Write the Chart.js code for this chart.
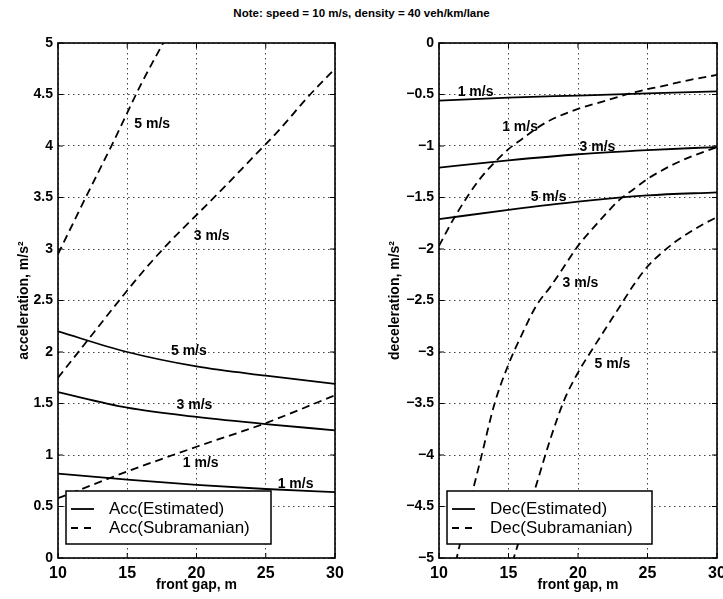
<!DOCTYPE html>
<html>
<head>
<meta charset="utf-8">
<script src="https://cdn.jsdelivr.net/npm/chart.js@4.4.0/dist/chart.umd.min.js"></script>
<style>
html, body { margin: 0; padding: 0; background: #fff; overflow: hidden; width: 723px; height: 599px; }
#note { position: absolute; top: 7px; left: 0; width: 723px; text-align: center;
        font: bold 11.5px 'Liberation Sans', Arial, sans-serif; color: #000; }
#accChart { position: absolute; left: 0; top: 0; }
#decChart { position: absolute; left: 360px; top: 0; }
</style>
</head>
<body>
<div id="note">Note: speed = 10 m/s, density = 40 veh/km/lane</div>
<canvas id="accChart" width="360" height="599"></canvas>
<canvas id="decChart" width="380" height="599"></canvas>
<script>
// front gap (m) for the estimated curves
const gapEst = [10, 15, 20, 25, 30];

// acceleration, estimated model
const accEst5 = [2.20, 2.00, 1.86, 1.77, 1.69];
const accEst3 = [1.61, 1.46, 1.37, 1.30, 1.24];
const accEst1 = [0.82, 0.76, 0.71, 0.67, 0.64];

// acceleration, Subramanian model
const gapAccSub5 = [10, 12, 14, 16, 18];
const accSub5 = [2.95, 3.50, 4.04, 4.60, 5.10];
const gapAccSub3 = [10, 11, 12, 13, 14, 16, 18, 20, 22, 24, 26, 28, 30];
const accSub3 = [1.75, 1.92, 2.09, 2.26, 2.43, 2.76, 3.06, 3.33, 3.60, 3.88, 4.16, 4.47, 4.75];
const gapAccSub1 = [10, 15, 20, 25, 30];
const accSub1 = [0.58, 0.84, 1.08, 1.31, 1.58];

// deceleration, estimated model
const decEst1 = [-0.56, -0.53, -0.51, -0.49, -0.47];
const decEst3 = [-1.21, -1.14, -1.08, -1.04, -1.01];
const decEst5 = [-1.71, -1.62, -1.54, -1.48, -1.45];

// deceleration, Subramanian model
const gapDecSub1 = [10, 11, 12, 13, 14, 15, 16, 17, 18, 20, 22, 24, 26, 28, 30];
const decSub1 = [-1.97, -1.72, -1.50, -1.31, -1.16, -1.03, -0.93, -0.83, -0.75, -0.64, -0.56, -0.48, -0.42, -0.36, -0.31];
const gapDecSub3 = [11, 12, 13, 14, 15, 16, 17, 18, 19, 20, 21, 22, 23, 24, 25, 26, 27, 28, 29, 30];
const decSub3 = [-5.16, -4.58, -4.04, -3.50, -3.12, -2.82, -2.55, -2.37, -2.17, -1.97, -1.81, -1.66, -1.52, -1.42, -1.32, -1.24, -1.17, -1.11, -1.06, -1.01];
const gapDecSub5 = [15, 16, 17, 18, 19, 20, 21, 22, 23, 24, 25, 26, 27, 28, 29, 30];
const decSub5 = [-5.16, -4.73, -4.29, -3.85, -3.47, -3.20, -2.98, -2.77, -2.56, -2.35, -2.17, -2.04, -1.93, -1.84, -1.76, -1.69];

// curve labels (data coordinates)
const accNotes = ['5 m/s', '3 m/s', '5 m/s', '3 m/s', '1 m/s', '1 m/s'];
const accNoteX = [16.8, 21.1, 19.45, 19.85, 20.3, 27.15];
const accNoteY = [4.21, 3.12, 2.01, 1.48, 0.92, 0.72];
const decNotes = ['1 m/s', '1 m/s', '3 m/s', '5 m/s', '3 m/s', '5 m/s'];
const decNoteX = [12.63, 15.83, 21.4, 17.88, 20.18, 22.48];
const decNoteY = [-0.48, -0.82, -1.01, -1.50, -2.33, -3.12];

const accLegend = ['Acc(Estimated)', 'Acc(Subramanian)'];
const decLegend = ['Dec(Estimated)', 'Dec(Subramanian)'];

const FONT = "'Liberation Sans', Arial, sans-serif";
const DASH = [8, 5];

function toPoints(xs, ys) {
    return xs.map((x, i) => ({ x: x, y: ys[i] }));
}

function lineSet(label, xs, ys, dashed) {
    return {
        label: label,
        data: toPoints(xs, ys),
        borderColor: '#000',
        borderWidth: 1.8,
        borderDash: dashed ? DASH : [],
        pointRadius: 0,
        fill: false,
        cubicInterpolationMode: 'monotone'
    };
}

// labels, MATLAB-style inward ticks, boxed legend and frame
function makeDecor(notes, noteX, noteY, legendText) {
    return {
        id: 'decor',
        afterDatasetsDraw(chart) {
            const { ctx, chartArea: a, scales: { x, y } } = chart;
            ctx.save();
            ctx.fillStyle = '#000';
            ctx.font = 'bold 14px ' + FONT;
            ctx.textAlign = 'center';
            ctx.textBaseline = 'middle';
            notes.forEach((t, i) => {
                ctx.fillText(t, x.getPixelForValue(noteX[i]), y.getPixelForValue(noteY[i]));
            });

            ctx.strokeStyle = '#000';
            ctx.lineWidth = 1;
            ctx.beginPath();
            x.ticks.forEach(t => {
                const px = x.getPixelForValue(t.value);
                ctx.moveTo(px, a.bottom); ctx.lineTo(px, a.bottom - 5);
                ctx.moveTo(px, a.top); ctx.lineTo(px, a.top + 5);
            });
            y.ticks.forEach(t => {
                const py = y.getPixelForValue(t.value);
                ctx.moveTo(a.left, py); ctx.lineTo(a.left + 5, py);
                ctx.moveTo(a.right, py); ctx.lineTo(a.right - 5, py);
            });
            ctx.stroke();

            // legend box
            const bx = a.left + 8, by = a.bottom - 67, bw = 205, bh = 53;
            ctx.fillStyle = '#fff';
            ctx.fillRect(bx, by, bw, bh);
            ctx.lineWidth = 1.5;
            ctx.strokeRect(bx, by, bw, bh);
            ctx.lineWidth = 1.8;
            ctx.beginPath();
            ctx.setLineDash([]);
            ctx.moveTo(bx + 5, by + 18); ctx.lineTo(bx + 28, by + 18);
            ctx.stroke();
            ctx.beginPath();
            ctx.setLineDash([7, 6]);
            ctx.moveTo(bx + 5, by + 37); ctx.lineTo(bx + 30, by + 37);
            ctx.stroke();
            ctx.setLineDash([]);
            ctx.fillStyle = '#000';
            ctx.font = '17px ' + FONT;
            ctx.textAlign = 'left';
            ctx.fillText(legendText[0], bx + 43, by + 18);
            ctx.fillText(legendText[1], bx + 43, by + 37);

            ctx.lineWidth = 1.6;
            ctx.strokeRect(a.left, a.top, a.width, a.height);
            ctx.restore();
        }
    };
}

function minusSign(v) {
    return String(v).replace('-', '\u2212');
}

function makeOptions(yMin, yMax, yTitle, yWidth, yTitlePad, padRight) {
    return {
        responsive: false,
        animation: false,
        events: [],
        layout: { padding: { top: 43, right: padRight, bottom: 0, left: 0 } },
        plugins: { legend: { display: false }, tooltip: { enabled: false } },
        scales: {
            x: {
                type: 'linear',
                min: 10, max: 30,
                ticks: { stepSize: 5, color: '#000', padding: 6, font: { family: FONT, size: 16, weight: 'bold' } },
                grid: { color: '#444', lineWidth: 1, drawTicks: false, borderDash: [1.5, 3.5] },
                border: { display: false, dash: [1.5, 3.5] },
                title: { display: true, text: 'front gap, m', color: '#000', padding: { top: 0, bottom: 5 },
                         font: { family: FONT, size: 14, weight: 'bold' } },
                afterFit(scale) { scale.height = 41; }
            },
            y: {
                min: yMin, max: yMax,
                ticks: { stepSize: 0.5, color: '#000', padding: 5, callback: minusSign,
                         font: { family: FONT, size: 14, weight: 'bold' } },
                grid: { color: '#444', lineWidth: 1, drawTicks: false, borderDash: [1.5, 3.5] },
                border: { display: false, dash: [1.5, 3.5] },
                title: { display: true, text: yTitle, color: '#000', padding: { top: yTitlePad, bottom: 0 },
                         font: { family: FONT, size: 14, weight: 'bold' } },
                afterFit(scale) { scale.width = yWidth; }
            }
        }
    };
}

new Chart(document.getElementById('accChart').getContext('2d'), {
    type: 'line',
    data: {
        datasets: [
            lineSet('Acc est 5', gapEst, accEst5, false),
            lineSet('Acc est 3', gapEst, accEst3, false),
            lineSet('Acc est 1', gapEst, accEst1, false),
            lineSet('Acc sub 5', gapAccSub5, accSub5, true),
            lineSet('Acc sub 3', gapAccSub3, accSub3, true),
            lineSet('Acc sub 1', gapAccSub1, accSub1, true)
        ]
    },
    options: makeOptions(0, 5, 'acceleration, m/s\u00b2', 58, 16, 25),
    plugins: [makeDecor(accNotes, accNoteX, accNoteY, accLegend)]
});

new Chart(document.getElementById('decChart').getContext('2d'), {
    type: 'line',
    data: {
        datasets: [
            lineSet('Dec est 1', gapEst, decEst1, false),
            lineSet('Dec est 3', gapEst, decEst3, false),
            lineSet('Dec est 5', gapEst, decEst5, false),
            lineSet('Dec sub 1', gapDecSub1, decSub1, true),
            lineSet('Dec sub 3', gapDecSub3, decSub3, true),
            lineSet('Dec sub 5', gapDecSub5, decSub5, true)
        ]
    },
    options: makeOptions(-5, 0, 'deceleration, m/s\u00b2', 79, 27, 23),
    plugins: [makeDecor(decNotes, decNoteX, decNoteY, decLegend)]
});
</script>
</body>
</html>
